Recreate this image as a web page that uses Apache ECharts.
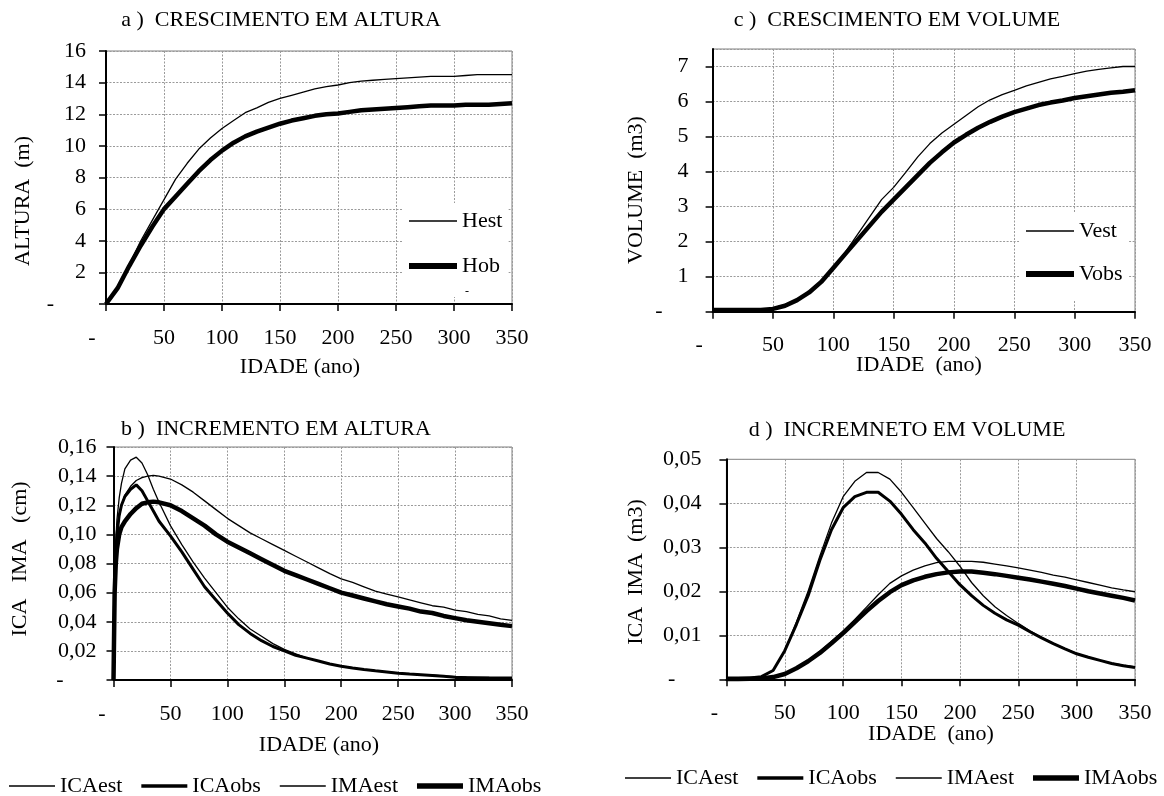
<!DOCTYPE html>
<html><head><meta charset="utf-8">
<script src="https://cdn.jsdelivr.net/npm/echarts@6/dist/echarts.min.js"></script>
<style>html,body{margin:0;padding:0;background:#fff}#c{width:1164px;height:796px}</style>
</head><body><div id="c"></div>
<script>
// ---- data ----
const ages10 = [0,10,20,30,40,50,60,70,80,90,100,110,120,130,140,150,160,170,180,190,200,210,220,230,240,250,260,270,280,290,300,310,320,330,340,350];
const agesB = [0,1,2,3,5,7,10,15,20,25,30,35,40,50,60,70,80,90,100,110,120,130,140,150,160,170,180,190,200,210,220,230,240,250,260,270,280,290,300,310,320,330,340,350];
const xTicks = [0,50,100,150,200,250,300,350];

// a) height growth (m)
const Hest = [0,1.0,2.5,4.0,5.3,6.6,7.9,8.9,9.8,10.5,11.1,11.6,12.1,12.4,12.75,13.0,13.2,13.4,13.6,13.75,13.85,14.0,14.1,14.15,14.2,14.25,14.3,14.35,14.4,14.4,14.4,14.45,14.5,14.5,14.5,14.5];
const Hob  = [0,1.0,2.4,3.7,4.9,6.0,6.8,7.6,8.4,9.1,9.7,10.2,10.6,10.9,11.15,11.4,11.6,11.75,11.9,12.0,12.05,12.15,12.25,12.3,12.35,12.4,12.45,12.5,12.55,12.55,12.55,12.6,12.6,12.6,12.65,12.7];

// c) volume growth (m3)
const Vest = [0.05,0.05,0.05,0.05,0.06,0.1,0.2,0.35,0.55,0.85,1.25,1.7,2.2,2.7,3.2,3.55,3.98,4.42,4.8,5.1,5.35,5.6,5.85,6.05,6.2,6.32,6.45,6.55,6.65,6.72,6.8,6.87,6.92,6.96,7.0,7.0];
const Vobs = [0.05,0.05,0.05,0.05,0.05,0.08,0.17,0.33,0.55,0.85,1.25,1.65,2.05,2.45,2.85,3.2,3.55,3.9,4.25,4.55,4.83,5.05,5.25,5.42,5.57,5.7,5.8,5.9,5.97,6.03,6.1,6.15,6.2,6.25,6.28,6.32];

// b) height increment (cm)
const ICAestH = [0,0.07,0.095,0.11,0.125,0.135,0.145,0.151,0.153,0.149,0.141,0.131,0.122,0.106,0.093,0.081,0.07,0.06,0.05,0.042,0.035,0.03,0.025,0.021,0.018,0.015,0.013,0.011,0.0095,0.0083,0.0072,0.0063,0.0055,0.0048,0.0042,0.0037,0.0033,0.0029,0.0025,0.0022,0.002,0.0017,0.0015,0.0014];
const ICAobsH = [0,0.06,0.085,0.1,0.113,0.12,0.126,0.131,0.134,0.13,0.123,0.116,0.109,0.099,0.088,0.076,0.064,0.055,0.046,0.038,0.032,0.027,0.023,0.02,0.017,0.015,0.013,0.011,0.0095,0.0083,0.0072,0.0063,0.0055,0.0047,0.0041,0.0036,0.0031,0.0026,0.0018,0.0016,0.0014,0.0013,0.0013,0.0013];
const IMAestH = [0,0.07,0.09,0.1,0.112,0.12,0.127,0.133,0.137,0.139,0.14,0.1405,0.14,0.138,0.134,0.129,0.123,0.117,0.111,0.106,0.101,0.097,0.093,0.089,0.085,0.081,0.077,0.073,0.0695,0.067,0.064,0.061,0.059,0.057,0.055,0.053,0.051,0.05,0.048,0.047,0.045,0.044,0.042,0.041];
const IMAobsH = [0,0.06,0.08,0.09,0.1,0.105,0.109,0.114,0.118,0.121,0.122,0.1225,0.122,0.12,0.116,0.111,0.106,0.1,0.095,0.091,0.087,0.083,0.079,0.075,0.072,0.069,0.066,0.063,0.06,0.058,0.056,0.054,0.052,0.0505,0.049,0.047,0.046,0.044,0.0425,0.041,0.04,0.039,0.038,0.037];

// d) volume increment (m3)
const ICAestV = [0.0003,0.0003,0.0003,0.0006,0.002,0.0065,0.013,0.02,0.028,0.0355,0.0415,0.045,0.047,0.047,0.0455,0.0425,0.039,0.0355,0.032,0.029,0.0257,0.022,0.019,0.0165,0.0145,0.0127,0.011,0.0095,0.0082,0.007,0.0059,0.005,0.0043,0.0037,0.0032,0.0028];
const ICAobsV = [0.0003,0.0003,0.0003,0.0006,0.002,0.0065,0.0125,0.019,0.027,0.034,0.039,0.0415,0.0425,0.0425,0.0405,0.0375,0.034,0.031,0.0275,0.0245,0.0215,0.019,0.0168,0.015,0.0135,0.0123,0.0108,0.0094,0.0081,0.0069,0.0058,0.005,0.0043,0.0036,0.0031,0.0027];
const IMAestV = [0,0,0.0001,0.0002,0.0005,0.0013,0.0026,0.0043,0.0063,0.0086,0.011,0.0136,0.0164,0.0192,0.0218,0.0235,0.0248,0.0258,0.0265,0.0268,0.0268,0.0268,0.0266,0.0262,0.0258,0.0253,0.0248,0.0243,0.0237,0.0232,0.0226,0.022,0.0214,0.0208,0.0203,0.0199];
const IMAobsV = [0,0,0.0001,0.0002,0.0005,0.0012,0.0025,0.0041,0.006,0.0082,0.0105,0.013,0.0155,0.0178,0.0198,0.0214,0.0225,0.0233,0.0239,0.0243,0.0245,0.0245,0.0242,0.0239,0.0235,0.0231,0.0227,0.0222,0.0217,0.0212,0.0206,0.02,0.0195,0.019,0.0185,0.0179];

// ---- rendering ----
const FONT = 'Liberation Serif';
const FS = 22;
const pairs = (xs, ys) => xs.map((x, i) => [x, ys[i]]);

function mkX(gi, zeroPad) {
  return {
    gridIndex: gi, type: 'value', min: 0, max: 350, interval: 50,
    axisLine: {show: true, onZero: false, lineStyle: {color: '#000', width: 2}},
    axisTick: {show: true, length: 7, lineStyle: {color: '#000', width: 1.5}},
    splitLine: {show: true, lineStyle: {color: '#9a9a9a', type: [2, 1.5], width: 1}},
    axisLabel: {
      margin: 23, color: '#000', fontFamily: FONT, fontSize: FS,
      formatter: v => v === 0 ? '{z|-}' : String(v),
      rich: {z: {padding: [0, zeroPad, 0, 0], fontFamily: FONT, fontSize: FS, color: '#000'}}
    }
  };
}
function mkY(gi, max, interval, fmt, margin, zeroPad, showMax) {
  return {
    gridIndex: gi, type: 'value', min: 0, max: max, interval: interval,
    axisLine: {show: true, onZero: false, lineStyle: {color: '#000', width: 2}},
    axisTick: {show: true, length: 7, lineStyle: {color: '#000', width: 1.5}},
    splitLine: {show: true, lineStyle: {color: '#9a9a9a', type: [2, 1.5], width: 1}},
    axisLabel: {
      margin: margin, color: '#000', fontFamily: FONT, fontSize: FS, showMaxLabel: showMax,
      formatter: v => Math.abs(v) < 1e-9 ? '{z|-}' : fmt(v),
      rich: {z: {padding: [0, zeroPad, 0, 0], fontFamily: FONT, fontSize: FS, color: '#000'}}
    }
  };
}
const intFmt = v => String(Math.round(v));
const decFmt = v => v.toFixed(2).replace('.', ',');

function line(name, gi, xs, ys, w) {
  return {
    name: name, type: 'line', xAxisIndex: gi, yAxisIndex: gi, data: pairs(xs, ys),
    symbol: 'none', showSymbol: false, smooth: false,
    lineStyle: {color: '#000', width: w}, itemStyle: {color: '#000', borderWidth: 0}, z: w > 2 ? 3 : 4
  };
}
const THIN = 1.3;

function txt(x, y, text, rot) {
  return {type: 'text', x: x, y: y, rotation: rot || 0, z: 10,
    style: {text: text, fill: '#000', font: FS + 'px "' + FONT + '"', align: 'center', verticalAlign: 'middle'}};
}
const bar = (w, h) => 'path://M0,0H' + w + 'V' + h + 'H0Z';

const gridBase = {show: true, borderColor: '#808080', borderWidth: 1, containLabel: false};
const legText = {fontFamily: FONT, fontSize: FS, color: '#000'};

const option = {
  animation: false,
  backgroundColor: '#fff',
  grid: [
    Object.assign({left: 106, top: 51, width: 406, height: 253}, gridBase),
    Object.assign({left: 113.5, top: 447, width: 398.5, height: 233}, gridBase),
    Object.assign({left: 712.6, top: 49, width: 422.4, height: 262.7}, gridBase),
    Object.assign({left: 726.4, top: 459.3, width: 408.6, height: 220}, gridBase)
  ],
  xAxis: [mkX(0, 28), mkX(1, 23), mkX(2, 27), mkX(3, 24)],
  yAxis: [
    mkY(0, 16, 2, intFmt, 20, 32, true),
    mkY(1, 0.16, 0.02, decFmt, 17, 33, true),
    mkY(2, 7.5, 1, intFmt, 24, 26, false),
    mkY(3, 0.05, 0.01, decFmt, 25, 26, true)
  ],
  legend: [
    {left: 403, top: 203, orient: 'vertical', padding: [6, 6, 19, 6], backgroundColor: '#fff',
     itemWidth: 48, itemHeight: 14, itemGap: 21, textStyle: Object.assign({lineHeight: 24}, legText),
     itemStyle: {borderWidth: 0}, symbolKeepAspect: true, selectedMode: false, z: 6,
     data: [{name: 'Hest', icon: bar(48, 1.6)}, {name: 'Hob', icon: bar(48, 6)}]},
    {left: 1019, top: 213, orient: 'vertical', padding: [6, 6, 14, 7], backgroundColor: '#fff',
     itemWidth: 48, itemHeight: 14, itemGap: 19, textStyle: Object.assign({lineHeight: 24}, legText),
     itemStyle: {borderWidth: 0}, symbolKeepAspect: true, selectedMode: false, z: 6,
     data: [{name: 'Vest', icon: bar(48, 1.6)}, {name: 'Vobs', icon: bar(48, 6)}]},
    {left: 9, top: 775, orient: 'horizontal', padding: 0,
     itemWidth: 46, itemHeight: 14, itemGap: 19, textStyle: legText,
     itemStyle: {borderWidth: 0}, symbolKeepAspect: true, selectedMode: false,
     data: [{name: 'ICAest', icon: bar(46, 1.5)}, {name: 'ICAobs', icon: bar(46, 3.5)},
            {name: 'IMAest', icon: bar(46, 1.5)}, {name: 'IMAobs', icon: bar(46, 5.5)}]},
    {left: 625, top: 767, orient: 'horizontal', padding: 0,
     itemWidth: 46, itemHeight: 14, itemGap: 19, textStyle: legText,
     itemStyle: {borderWidth: 0}, symbolKeepAspect: true, selectedMode: false,
     data: [{name: 'ICAest', icon: bar(46, 1.5)}, {name: 'ICAobs', icon: bar(46, 3.5)},
            {name: 'IMAest', icon: bar(46, 1.5)}, {name: 'IMAobs', icon: bar(46, 5.5)}]}
  ],
  series: [
    line('Hest', 0, ages10, Hest, THIN),
    line('Hob', 0, ages10, Hob, 4.5),
    line('ICAest', 1, agesB, ICAestH, THIN),
    line('ICAobs', 1, agesB, ICAobsH, 3),
    line('IMAest', 1, agesB, IMAestH, THIN),
    line('IMAobs', 1, agesB, IMAobsH, 4.5),
    line('Vest', 2, ages10, Vest, THIN),
    line('Vobs', 2, ages10, Vobs, 4.5),
    line('ICAest', 3, ages10, ICAestV, THIN),
    line('ICAobs', 3, ages10, ICAobsV, 3),
    line('IMAest', 3, ages10, IMAestV, THIN),
    line('IMAobs', 3, ages10, IMAobsV, 4.5)
  ],
  graphic: [
    txt(281, 20, 'a )  CRESCIMENTO EM ALTURA'),
    txt(276, 429, 'b )  INCREMENTO EM ALTURA'),
    txt(897, 20, 'c )  CRESCIMENTO EM VOLUME'),
    txt(907, 430, 'd )  INCREMNETO EM VOLUME'),
    txt(23, 201, 'ALTURA  (m)', Math.PI / 2),
    txt(20, 559, 'ICA   IMA   (cm)', Math.PI / 2),
    txt(636, 190, 'VOLUME  (m3)', Math.PI / 2),
    txt(636, 572, 'ICA  IMA  (m3)', Math.PI / 2),
    txt(300, 367, 'IDADE (ano)'),
    txt(319, 745, 'IDADE (ano)'),
    txt(919, 365, 'IDADE  (ano)'),
    txt(931, 734, 'IDADE  (ano)'),
    {type: 'text', x: 467, y: 292, z: 10, style: {text: '-', fill: '#000', font: '12px "' + FONT + '"', align: 'center', verticalAlign: 'middle'}}
  ]
};
const chart = echarts.init(document.getElementById('c'), null, {renderer: 'canvas'});
chart.setOption(option);
</script></body></html>
